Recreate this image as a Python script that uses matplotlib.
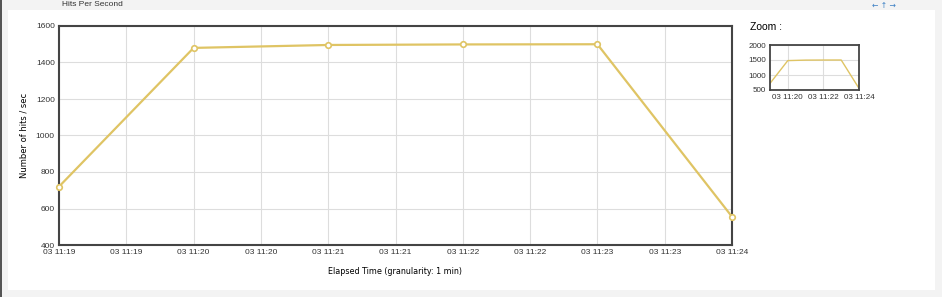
import datetime as dt
import matplotlib
matplotlib.use('Agg')
import matplotlib.pyplot as plt
import matplotlib.dates as mdates
from matplotlib.patches import Rectangle

# sample times (1 min granularity) and hits per second
times = [dt.datetime(2023, 1, 3, 11, 19) + dt.timedelta(minutes=i) for i in range(6)]
hits = [720, 1480, 1496, 1499, 1500, 555]

main_yticks = [400, 600, 800, 1000, 1200, 1400, 1600]
zoom_yticks = [500, 1000, 1500, 2000]
zoom_xticks = [times[1], times[3], times[5]]

line_col = '#dfc464'
frame_col = '#444444'
grid_col = '#dddddd'
tick_font = ['Liberation Sans', 'DejaVu Sans']

fig = plt.figure(figsize=(9.42, 2.97), dpi=100)
fig.patch.set_facecolor('#f3f3f3')

# white panel body
fig.add_artist(Rectangle((8 / 942, 7 / 297), 927 / 942, 280 / 297, transform=fig.transFigure,
                         facecolor='white', edgecolor='none', zorder=0))
# dark left border
fig.add_artist(Rectangle((0, 0), 2 / 942, 1, transform=fig.transFigure,
                         facecolor='#555555', edgecolor='none', zorder=0))
# header title in the grey strip
fig.text(62 / 942, 1 - 1 / 297, 'Hits Per Second', fontsize=6, color='#333333', va='top',
         family=tick_font)
fig.text(872 / 942, 1 - 1 / 297, '\u2190 \u2191 \u2192', fontsize=5.5, color='#3a7fc4', va='top')

# main chart
ax = fig.add_axes([59 / 942, 52 / 297, 673 / 942, 219 / 297])
ax.plot(times, hits, color=line_col, lw=1.6, marker='o', ms=4,
        mfc='white', mec=line_col, mew=1.2, zorder=3, clip_on=False)
ax.set_xlim(times[0], times[-1])
ax.set_ylim(400, 1600)
ax.set_yticks(main_yticks)
ax.xaxis.set_major_locator(mdates.SecondLocator(bysecond=[0, 30]))
ax.xaxis.set_major_formatter(mdates.DateFormatter('%d %H:%M'))
ax.grid(True, color=grid_col, lw=0.8)
ax.set_axisbelow(True)
for s in ax.spines.values():
    s.set_color(frame_col)
    s.set_linewidth(1.5)
ax.tick_params(length=0, labelsize=6, colors='#333333', pad=3)
for lab in ax.get_xticklabels() + ax.get_yticklabels():
    lab.set_family(tick_font)
ax.set_xlabel('Elapsed Time (granularity: 1 min)', fontsize=5.8, color='black', labelpad=8)
ax.set_ylabel('Number of hits / sec', fontsize=6, color='black', labelpad=5)

# zoom overview
fig.text(750 / 942, 1 - 27 / 297, 'Zoom :', fontsize=7.5, va='center', family=tick_font)
az = fig.add_axes([770 / 942, 207 / 297, 89 / 942, 45 / 297])
az.plot(times, hits, color=line_col, lw=1.0)
az.set_xlim(times[0], times[-1])
az.set_ylim(500, 2000)
az.set_yticks(zoom_yticks)
az.set_xticks(zoom_xticks)
az.xaxis.set_major_formatter(mdates.DateFormatter('%d %H:%M'))
az.grid(True, color=grid_col, lw=0.8)
az.set_axisbelow(True)
for s in az.spines.values():
    s.set_color(frame_col)
    s.set_linewidth(1.3)
az.tick_params(length=0, labelsize=5.8, colors='#333333', pad=3)
for lab in az.get_xticklabels() + az.get_yticklabels():
    lab.set_family(tick_font)

fig.savefig('out.png', dpi=100, facecolor=fig.get_facecolor())
